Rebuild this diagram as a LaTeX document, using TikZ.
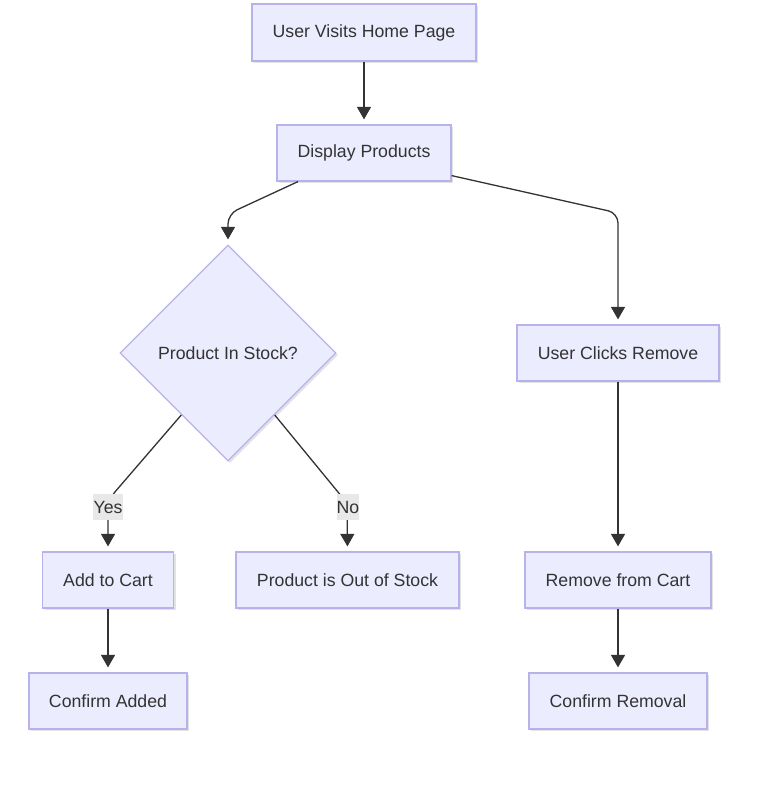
\documentclass[tikz,border=0pt]{standalone}
\usepackage{fontspec}
\setmainfont{Liberation Sans}
\usetikzlibrary{arrows.meta,shapes.geometric,shadows,calc}
\definecolor{nodefill}{HTML}{ECECFF}
\definecolor{nodedraw}{HTML}{B8B2EC}
\definecolor{ink}{HTML}{333333}
\definecolor{lblbg}{HTML}{E8E8E8}
\begin{document}
\begin{tikzpicture}[x=1pt,y=-1pt,
  font=\fontsize{17.7}{21}\selectfont, text=ink,
  box/.style={rectangle, draw=nodedraw, fill=nodefill, line width=1.2pt, inner sep=0pt,
    minimum height=56pt, drop shadow={shadow xshift=2pt, shadow yshift=-2pt, opacity=0.22}},
  decision/.style={diamond, aspect=1, draw=nodedraw, fill=nodefill, line width=1.2pt, inner sep=0pt,
    minimum width=216pt, minimum height=216pt, drop shadow={shadow xshift=2pt, shadow yshift=-2pt, opacity=0.22}},
  edge/.style={draw=ink, line width=1.3pt, rounded corners=10pt,
    -{Triangle[length=12.5pt,width=14pt]}, shorten >=5pt},
  elabel/.style={fill=lblbg, inner sep=0pt, minimum width=30pt, minimum height=26pt, text=ink}
]
\useasboundingbox (0,0) rectangle (783,791);

\node[box, minimum width=224pt, minimum height=57pt] (A) at (364,32.5) {User Visits Home Page};
\node[box, minimum width=174pt] (B) at (364,153) {Display Products};
\node[decision] (C) at (228,353) {Product In Stock?};
\node[box, minimum width=202pt] (D) at (618,353) {User Clicks Remove};
\node[box, minimum width=131pt] (E) at (108,580) {Add to Cart};
\node[box, minimum width=223pt] (F) at (347.5,580) {Product is Out of Stock};
\node[box, minimum width=186pt] (G) at (618,580) {Remove from Cart};
\node[box, minimum width=158pt] (H) at (108,701) {Confirm Added};
\node[box, minimum width=178pt] (I) at (618,701) {Confirm Removal};

\coordinate (bc1) at ($(B.south)+(-66,0)$);
\coordinate (bc2) at (228,214);
\coordinate (bd1) at ($(B.south east)+(0,-6)$);
\coordinate (bd2) at (618,213);
\coordinate (ce1) at (108,500);
\coordinate (cf1) at (347,503);

\draw[edge] (A) -- (B);
\draw[edge] (bc1) -- (bc2) -- (C.north);
\draw[edge] (bd1) -- (bd2) -- (D.north);
\draw[edge] (C.-127) -- (ce1) -- (E.north);
\draw[edge] (C.-53) -- (cf1) -- (F.north);
\draw[edge] (D) -- (G);
\draw[edge] (E) -- (H);
\draw[edge] (G) -- (I);

\node[elabel] (ly) at (108,507) {Yes};
\node[elabel, minimum width=22pt] (ln) at (348,507) {No};
\end{tikzpicture}
\end{document}
